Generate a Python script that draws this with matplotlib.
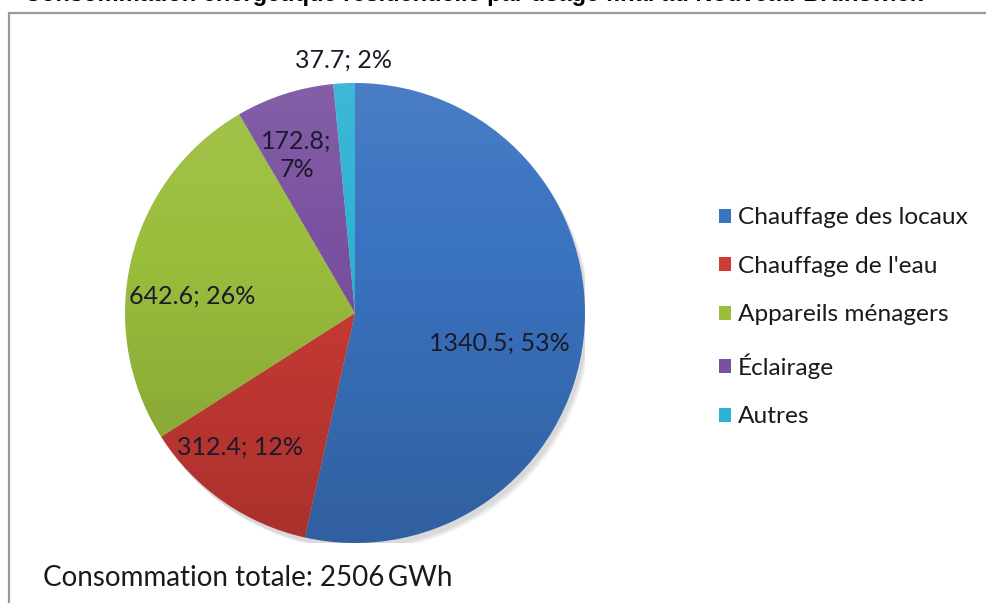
import numpy as np
import matplotlib.pyplot as plt
from matplotlib.patches import Rectangle, Circle

# residential energy use by end use (GWh)
categories = ["Chauffage des locaux", "Chauffage de l'eau", "Appareils ménagers",
              "Éclairage", "Autres"]
values = [1340.5, 312.4, 642.6, 172.8, 37.7]
colors = ["#3A73C0", "#CC3B36", "#9BBE3D", "#7A51A0", "#2EB2D4"]
label_radius = [0.64, 0.77, 0.71, 0.73, 1.10]   # distance of each data label from centre
label_turn = [-5.4, -5.6, 7.7, 2.5, 0.0]        # nudge (deg) off the wedge bisector
label_text = ["{v}; {p}%", "{v}; {p}%", "{v}; {p}%", "{v};\n{p}%", "{v}; {p}%"]
title = "Consommation énergétique résidentielle par usage final au Nouveau-Brunswick"

W, H = 987, 603
plt.rcParams["font.family"] = ["Lato", "DejaVu Sans"]
fig = plt.figure(figsize=(W / 100, H / 100), dpi=100)
fig.patch.set_facecolor("white")

# chart frame (right and bottom run off the canvas)
fig.patches.append(Rectangle((9 / W, -0.2), 1.2, (H - 13) / H + 0.2,
                             transform=fig.transFigure, fill=False,
                             edgecolor="#999999", linewidth=1.6, zorder=0))
fig.text(0.48, 1 - 1.0 / H, title, ha="center", va="baseline",
         fontsize=17, fontweight="bold", family="Liberation Sans", color="black")

cx, cy, R = 355, 313, 230
ax = fig.add_axes([(cx - R) / W, (H - cy - R) / H, 2 * R / W, 2 * R / H])
ax.axis("off")

# soft drop shadow under the disc
for k in range(3):
    ax.add_patch(Circle((0.012 + 0.006 * k, -0.02 - 0.006 * k), 1.0,
                        facecolor="black", alpha=0.05, edgecolor="none", zorder=0))

wedges, _ = ax.pie(values, colors=colors, startangle=90, counterclock=False,
                   radius=1.0, wedgeprops=dict(linewidth=0, zorder=2))

# vertical shading: slightly lighter top, darker bottom
t = np.linspace(0, 1, 256)
shade = np.zeros((256, 1, 4))
top = t < 0.35
shade[top, 0, :3] = 1.0
shade[top, 0, 3] = (0.35 - t[top]) / 0.35 * 0.08
shade[~top, 0, 3] = (t[~top] - 0.35) / 0.65 * 0.17
im = ax.imshow(shade, extent=(-1, 1, -1, 1), origin="upper", aspect="auto", zorder=3)
im.set_clip_path(Circle((0, 0), 1.0, transform=ax.transData))
ax.set_xlim(-1, 1)
ax.set_ylim(-1, 1)
ax.set_aspect("equal")

total = sum(values)
for w, v, r, d, fmt in zip(wedges, values, label_radius, label_turn, label_text):
    mid = np.deg2rad((w.theta1 + w.theta2) / 2 + d)
    pct = int(round(100 * v / total))
    ax.text(r * np.cos(mid), r * np.sin(mid), fmt.format(v=v, p=pct),
            ha="center", va="center", fontsize=18, color="#1a1a2a",
            linespacing=1.3, zorder=5)

fig.legend(wedges, categories, loc="upper left",
           bbox_to_anchor=(707 / W, 1 - 195 / H), frameon=False, fontsize=17.6,
           handlelength=0.5, handleheight=0.5, handletextpad=0.25,
           labelspacing=1.13, borderpad=0, labelcolor="#1a1a1a")

fig.text(43 / W, 1 - 578 / H, f"Consommation totale: {total:.0f}\u2009GWh",
         ha="left", va="center", fontsize=20, color="#1a1a1a")

fig.savefig("out.png", dpi=100, facecolor="white")
